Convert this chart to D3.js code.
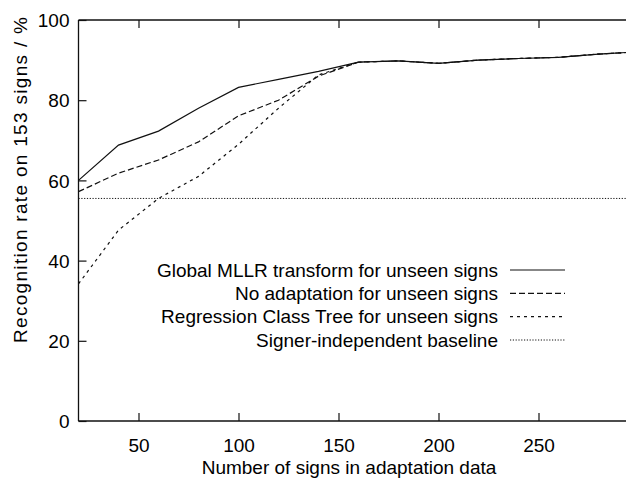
<!DOCTYPE html>
<html><head><meta charset="utf-8">
<script src="https://cdn.jsdelivr.net/npm/d3@7"></script>
<style>body{margin:0;background:#fff}svg{display:block}text{font-family:"Liberation Sans",Arial,sans-serif;fill:#000}</style>
</head><body><svg id="c" width="626" height="479"></svg>
<script>
const xValues = [20,40,60,80,100,120,140,160,180,200,220,240,260,280,294];
const globalMLLR = [60,68.8,72.3,78,83.2,85.2,87.2,89.5,89.8,89.2,90.0,90.4,90.7,91.5,91.9];
const noAdapt    = [57.2,61.8,65.1,69.6,76.1,80.0,86.0,89.5,89.8,89.2,90.0,90.4,90.7,91.5,91.9];
const regTree    = [34.2,47.6,55.5,61.0,69.0,78.0,86.3,89.5,89.8,89.2,90.0,90.4,90.7,91.5,91.9];
const baseline = 55.5;
const xTicks = [50,100,150,200,250];
const yTicks = [0,20,40,60,80,100];
const seriesNames = ["Global MLLR transform for unseen signs","No adaptation for unseen signs","Regression Class Tree for unseen signs","Signer-independent baseline"];
const xTitle = "Number of signs in adaptation data";
const yTitle = "Recognition rate on 153 signs / %";

const svg = d3.select("#c");
const L=78.5, R=626, T=20, B=421;
const x = d3.scaleLinear().domain([20,294]).range([L,L+(294-20)*2]);
const y = d3.scaleLinear().domain([0,100]).range([B,T]);
const stroke="#111";
const fs=19;

// frame
svg.append("line").attr("x1",L).attr("x2",L).attr("y1",T).attr("y2",B).attr("stroke",stroke).attr("stroke-width",1.3);
svg.append("line").attr("x1",L).attr("x2",R).attr("y1",B).attr("y2",B).attr("stroke",stroke).attr("stroke-width",1.3);
svg.append("line").attr("x1",L).attr("x2",R).attr("y1",T).attr("y2",T).attr("stroke",stroke).attr("stroke-width",1.3);

// axes via d3
const xAxis = svg.append("g").attr("transform",`translate(0,${B})`)
  .call(d3.axisBottom(x).tickValues(xTicks).tickSizeInner(-8).tickSizeOuter(0).tickPadding(18));
const xTop = svg.append("g").attr("transform",`translate(0,${T})`)
  .call(d3.axisTop(x).tickValues(xTicks).tickSizeInner(-8).tickSizeOuter(0).tickFormat(""));
const yAxis = svg.append("g").attr("transform",`translate(${L},0)`)
  .call(d3.axisLeft(y).tickValues(yTicks).tickSizeInner(-8).tickSizeOuter(0).tickPadding(9));
[xAxis,xTop,yAxis].forEach(g=>{
  g.select(".domain").remove();
  g.selectAll(".tick line").attr("stroke",stroke).attr("stroke-width",1.2);
  g.selectAll("text").attr("font-size",fs).attr("font-family","Liberation Sans, Arial, sans-serif").attr("fill","#000");
});
yAxis.selectAll("text").attr("dy","0.35em");

// titles
svg.append("text").attr("x",349).attr("y",474).attr("text-anchor","middle").attr("font-size",fs).text(xTitle);
svg.append("text").attr("transform",`translate(27,${180}) rotate(-90)`).attr("text-anchor","middle").attr("font-size",19)
  .attr("textLength",326).attr("lengthAdjust","spacing").text(yTitle);

// lines
const styles=[null,"6,3","3,4","1.2,1.6"];
const series=[globalMLLR,noAdapt,regTree];
const line=d3.line().x((d,i)=>x(xValues[i])).y(d=>y(d));
series.forEach((s,k)=>{
  const p=svg.append("path").datum(s).attr("d",line).attr("fill","none").attr("stroke",stroke).attr("stroke-width",1.2);
  if(styles[k]) p.attr("stroke-dasharray",styles[k]);
});
svg.append("line").attr("x1",x(20)).attr("x2",R).attr("y1",y(baseline)).attr("y2",y(baseline))
  .attr("stroke",stroke).attr("stroke-width",1).attr("stroke-dasharray",styles[3]);

// legend
const legY=[270,293.3,316.6,340];
seriesNames.forEach((n,k)=>{
  svg.append("text").attr("x",498).attr("y",legY[k]).attr("dy","0.35em").attr("text-anchor","end").attr("font-size",fs).text(n);
  const l=svg.append("line").attr("x1",510).attr("x2",565).attr("y1",legY[k]).attr("y2",legY[k]).attr("stroke",stroke).attr("stroke-width",k==3?1:1.2);
  if(styles[k]) l.attr("stroke-dasharray",styles[k]);
});
</script></body></html>
